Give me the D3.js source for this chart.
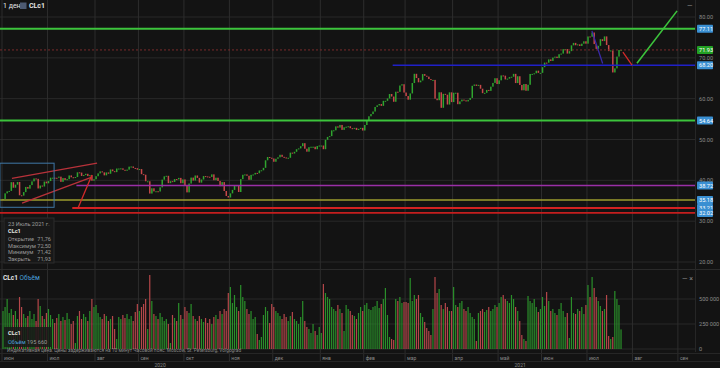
<!DOCTYPE html>
<html><head><meta charset="utf-8">
<script src="https://cdn.jsdelivr.net/npm/d3@7"></script>
<style>
html,body{margin:0;padding:0;background:#131313;overflow:hidden;}
svg{display:block;font-family:Roboto,"Noto Sans",sans-serif;}
</style></head><body>
<svg id="c" width="720" height="368"></svg>
<script>
// ---------- DATA ----------
const startDate = "2020-06-01";
const endDate = "2021-09-30";
const firstOpen = 35.2;
// daily closes (one per weekday from 2020-06-01 to 2021-07-23)
const closes = [
 // Jun 2020
 35.44,36.81,37.29,37.41,39.55,38.19,38.94,39.60,36.34,36.26,37.12,38.38,37.96,38.84,39.75,40.46,40.37,38.01,38.72,38.49,39.70,39.27,
 // Jul
 39.82,40.65,40.65,40.63,40.62,40.90,39.62,40.55,40.10,40.29,41.20,40.75,40.59,40.81,41.96,41.90,41.07,41.29,41.60,41.04,41.27,39.92,40.27,
 // Aug
 41.01,41.70,42.19,41.95,41.22,41.94,41.61,42.67,42.24,42.01,42.89,42.89,42.93,42.58,42.34,42.62,43.35,43.39,43.04,42.97,42.61,
 // Sep
 42.76,41.51,41.37,39.77,39.77,36.76,38.05,37.30,37.33,37.26,38.28,40.16,40.97,41.11,39.31,39.80,39.60,40.31,40.25,40.60,39.29,40.22,
 // Oct
 38.72,37.05,39.22,40.67,39.95,41.19,40.60,39.43,40.20,41.04,40.96,40.88,40.83,41.46,40.03,40.64,39.85,38.56,39.57,37.39,36.17,35.79,
 // Nov
 36.81,37.66,38.79,38.79,37.14,40.29,41.36,41.45,41.12,40.13,41.34,41.43,41.82,41.74,42.42,42.46,43.06,44.91,45.71,45.53,45.34,
 // Dec
 44.55,45.28,45.64,46.26,45.76,45.60,45.52,45.52,46.78,46.57,46.99,47.62,47.82,48.36,49.10,47.74,47.02,48.12,48.23,48.23,47.62,48.40,48.52,
 // Jan 2021
 48.52,47.62,49.93,50.63,50.83,52.24,52.25,53.21,52.91,53.57,52.36,52.98,53.13,53.24,52.77,52.61,52.85,52.34,52.61,52.85,52.20,
 // Feb
 53.55,54.76,55.69,56.23,56.85,57.97,58.36,58.68,58.24,59.47,59.47,60.05,61.14,60.52,59.24,61.70,61.67,63.22,63.53,61.50,
 // Mar
 60.64,59.75,61.28,63.83,66.09,65.05,64.01,64.44,66.02,65.61,65.39,64.80,64.60,64.60,60.00,59.62,61.56,57.76,61.18,60.97,58.56,61.55,59.16,
 // Apr
 61.45,61.45,58.65,59.33,59.77,59.60,59.32,59.70,60.18,63.15,63.46,63.13,63.38,62.44,61.35,61.43,62.14,61.91,62.94,63.86,65.01,63.58,
 // May
 64.49,65.69,65.63,64.71,64.90,65.28,65.37,66.08,63.82,65.49,63.36,62.05,63.58,61.94,63.40,66.05,66.07,66.21,66.85,66.32,66.32,
 // Jun
 67.72,68.83,68.81,69.62,69.23,70.05,70.29,69.96,70.88,71.04,72.12,72.15,71.04,71.64,73.06,73.66,73.08,73.30,72.91,73.47,74.05,73.47,
 // Jul (to 23rd)
 75.23,75.16,76.20,73.37,72.20,72.94,74.56,74.10,75.25,73.13,71.65,71.81,66.42,67.42,70.30,71.91,71.93
];
// daily volume, thousands of contracts
const volumes = [
 380,420,500,360,400,340,380,300,520,420,350,310,330,380,300,350,280,500,430,330,300,360,
 400,340,300,260,310,350,280,320,290,360,300,250,280,60,330,380,300,350,320,280,380,500,420,
 440,360,320,300,350,330,280,300,330,200,100,320,300,340,310,350,300,330,280,370,450,
 380,420,450,500,200,740,480,350,330,300,360,320,280,300,250,60,340,310,280,460,340,300,
 420,380,360,450,330,300,280,330,300,270,310,260,300,250,320,340,300,380,350,400,380,560,
 620,460,540,420,380,640,520,480,400,350,380,300,320,150,90,120,340,420,380,260,450,
 420,380,360,330,300,350,320,280,330,370,300,280,250,320,480,280,220,200,160,250,180,140,220,
 160,650,560,520,500,420,400,380,440,400,360,180,440,400,380,340,330,300,360,420,380,
 440,460,400,390,420,430,480,410,450,500,610,340,120,100,90,500,480,520,460,470,
 470,460,710,480,540,500,540,360,320,270,210,180,140,400,720,560,600,440,400,460,420,380,380,
 620,440,420,460,480,400,380,420,360,320,300,80,360,380,400,370,390,420,380,400,440,420,
 460,520,540,500,480,460,540,500,420,380,280,140,100,80,530,480,460,500,420,370,400,
 520,430,570,480,380,400,360,340,400,460,380,320,360,110,520,360,350,400,380,420,350,440,
 640,520,720,610,520,480,430,380,400,540,130,100,120,580,500,440,195.66
];
const priceTicks = [20,30,40,50,60,70,80];
const volumeTicks = [0,250000,500000];
const monthNames = ["янв","фев","мар","апр","май","июн","июл","авг","сен","окт","ноя","дек"];
// horizontal levels drawn by the user (price, start index; null = whole width)
const levelPrices = [77.11, 71.93, 68.20, 54.64, 38.72, 35.18, 33.21, 32.02];
const levelStarts = [null, null, 189, null, 36, null, 34, null];
const levelLabels = ["77.11","71.93","68.20","54.64","38.72","35.18","33.21","32.02"];
// trend lines drawn by the user: [index1, price1, index2, price2]
const trendLines = [
 [4.8, 40.5, 46, 44.2],
 [9.7, 34.4, 43.5, 40.8],
 [36.8, 33.2, 43.5, 41.3],
 [285.4, 76.6, 290.6, 68.6],
 [300.4, 71.4, 304.8, 68.2],
 [307.2, 68.7, 326.6, 81.5]
];
const boxRange = [-1, 44.2, 25.2, 33.4];
const lastDate = "23 Июль 2021 г.";
const ohlcNames = ["Открытие","Максимум","Минимум","Закрыть"];
const ohlcValues = ["71,76","72,50","71,42","71,93"];
const lastVolume = "195 660";

// ---------- LAYOUT ----------
const svg = d3.select("#c");
const W = 720, H = 368, plotRight = 695;
const days = d3.timeDay.range(new Date(startDate+"T00:00:00"), new Date(endDate+"T23:00:00"))
  .filter(d => d.getDay() !== 0 && d.getDay() !== 6);
const x = d3.scaleLinear().domain([0, days.length - 1]).range([2, 2 + (days.length - 1) * 2.067]);
const y = d3.scaleLinear().domain([20, 80]).range([262, 17]);
const yv = d3.scaleLinear().domain([0, 500000]).range([349, 299]);

svg.append("rect").attr("width", W).attr("height", H).attr("fill", "#131313");

// month boundaries
const monthStarts = [];
days.forEach((d, i) => { if (i === 0 || d.getMonth() !== days[i-1].getMonth()) monthStarts.push(i); });

const grid = svg.append("g");
// vertical grid
grid.selectAll("line.v").data(monthStarts).join("line")
  .attr("x1", i => x(i)).attr("x2", i => x(i)).attr("y1", 0).attr("y2", 361)
  .attr("stroke", "#333").attr("stroke-width", 0.8);
// price grid
grid.selectAll("line.p").data(priceTicks).join("line")
  .attr("x1", 0).attr("x2", plotRight).attr("y1", d => y(d)).attr("y2", d => y(d))
  .attr("stroke", "#2e2e2e").attr("stroke-width", 0.8);
// volume grid
grid.selectAll("line.vv").data(volumeTicks).join("line")
  .attr("x1", 0).attr("x2", plotRight).attr("y1", d => yv(d)).attr("y2", d => yv(d))
  .attr("stroke", "#2e2e2e").attr("stroke-width", 0.8);
// pane separator
svg.append("line").attr("x1", 0).attr("x2", W).attr("y1", 269.5).attr("y2", 269.5).attr("stroke", "#2a2a2a");
// right axis separator
svg.append("line").attr("x1", plotRight+0.5).attr("x2", plotRight+0.5).attr("y1", 0).attr("y2", 352).attr("stroke", "#262626");

const defs = svg.append("defs");
defs.append("clipPath").attr("id", "main").append("rect").attr("x", 0).attr("y", 0).attr("width", plotRight).attr("height", 268);

// candles
const candles = closes.map((c, i) => ({i, o: i ? closes[i-1] : firstOpen, c}));
const GREEN = "#2fa52f", RED = "#c8484a";
const cg = svg.append("g");
cg.selectAll("rect").data(candles).join("rect")
  .attr("x", d => x(d.i) + 0.3).attr("width", 1.5)
  .attr("y", d => y(Math.max(d.o, d.c)))
  .attr("height", d => Math.max(1, Math.abs(y(d.o) - y(d.c))))
  .attr("fill", d => d.c >= d.o ? GREEN : RED);

// volume bars
const vg = svg.append("g");
vg.selectAll("rect").data(volumes).join("rect")
  .attr("x", (v, i) => x(i) + 0.4).attr("width", 1.2)
  .attr("y", v => yv(v * 1000)).attr("height", v => yv(0) - yv(v * 1000))
  .attr("fill", (v, i) => candles[i].c >= candles[i].o ? "#2a8f2a" : "#b5474a");

// drawings
const dg = svg.append("g").attr("clip-path", "url(#main)");
const levelStyle = [
 {c:"#3cc43c", w:2}, {c:"#7a2b2b", w:1, dash:"2,2"}, {c:"#2020c8", w:1.5}, {c:"#3cc43c", w:2},
 {c:"#9a2fa6", w:1.5}, {c:"#9c9c2e", w:1.3}, {c:"#d42222", w:2}, {c:"#c41e1e", w:1.6}
];
levelPrices.forEach((p, k) => {
  const s = levelStyle[k];
  dg.append("line")
    .attr("x1", levelStarts[k] == null ? 0 : x(levelStarts[k])).attr("x2", plotRight)
    .attr("y1", y(p)).attr("y2", y(p))
    .attr("stroke", s.c).attr("stroke-width", s.w).attr("stroke-dasharray", s.dash || null);
});
const trendStyle = ["#b8323a","#b8323a","#d42a2a","#3a2aa8","#d42a2a","#3cc43c"];
trendLines.forEach((t, k) => {
  dg.append("line").attr("x1", x(t[0])).attr("y1", y(t[1])).attr("x2", x(t[2])).attr("y2", y(t[3]))
    .attr("stroke", trendStyle[k]).attr("stroke-width", k === 5 ? 1.6 : 1.3);
});
dg.append("rect").attr("x", x(boxRange[0])).attr("y", y(boxRange[1]))
  .attr("width", x(boxRange[2]) - x(boxRange[0])).attr("height", y(boxRange[3]) - y(boxRange[1]))
  .attr("fill", "none").attr("stroke", "#3f78a8").attr("stroke-width", 1);

// right price axis labels
const ax = svg.append("g").attr("font-size", 5.6);
priceTicks.forEach(p => {
  ax.append("text").attr("x", 699).attr("y", y(p) + 2).attr("fill", "#8a8a8a").text(p.toFixed(2));
});
levelPrices.forEach((p, k) => {
  const isCur = k === 1;
  ax.append("rect").attr("x", 697).attr("y", y(p) - 4).attr("width", 16).attr("height", 8)
    .attr("fill", isCur ? "#23a023" : "#3a8fd2").attr("rx", 0.8);
  ax.append("text").attr("x", 699).attr("y", y(p) + 2).attr("fill", "#fff").text(levelLabels[k]);
});
// volume axis labels
volumeTicks.forEach(v => {
  ax.append("text").attr("x", 699).attr("y", yv(v) + 2).attr("fill", "#8a8a8a")
    .text(d3.format(",")(v).replace(/,/g, " "));
});

// bottom time axis
const bx = svg.append("g").attr("font-size", 5).attr("fill", "#8a8a8a");
svg.append("line").attr("x1", 0).attr("x2", W).attr("y1", 353.5).attr("y2", 353.5).attr("stroke", "#262626");
svg.append("line").attr("x1", 0).attr("x2", W).attr("y1", 361.5).attr("y2", 361.5).attr("stroke", "#262626");
monthStarts.forEach(i => {
  bx.append("text").attr("x", x(i) + 2).attr("y", 359.5).text(monthNames[days[i].getMonth()]);
});
const years = d3.group(monthStarts, i => days[i].getFullYear());
years.forEach((arr, yr) => {
  const a = x(arr[0]), b = yr === 2020 ? x(arr.find((i, k) => days[i].getMonth() === 11) + 22) : W;
  bx.append("text").attr("x", (a + b) / 2).attr("y", 367).attr("text-anchor", "middle").text(yr);
});

// top-left header
const hd = svg.append("g").attr("font-size", 7).attr("fill", "#e6e6e6");
hd.append("text").attr("x", 3).attr("y", 8).text("1 день");
hd.append("rect").attr("x", 20).attr("y", 2.5).attr("width", 6.5).attr("height", 6.5).attr("fill", "#4d5a72");
hd.append("text").attr("x", 29).attr("y", 8).attr("font-weight", "bold").text("CLc1");
svg.append("text").attr("x", 687).attr("y", 8).attr("fill", "#888").attr("font-size", 7).text("—");

// OHLC tooltip
const tt = svg.append("g").attr("font-size", 5.6);
tt.append("rect").attr("x", 4).attr("y", 218).attr("width", 50).attr("height", 45)
  .attr("fill", "#181818").attr("stroke", "#2c2c2c");
tt.append("text").attr("x", 8).attr("y", 226).attr("fill", "#9a9a9a").text(lastDate);
tt.append("text").attr("x", 8).attr("y", 233).attr("fill", "#e6e6e6").attr("font-weight", "bold").text("CLc1");
ohlcNames.forEach((n, k) => {
  tt.append("text").attr("x", 8).attr("y", 241 + k * 6.6).attr("fill", "#9a9a9a").text(n);
  tt.append("text").attr("x", 51).attr("y", 241 + k * 6.6).attr("fill", "#9a9a9a").attr("text-anchor", "end").text(ohlcValues[k]);
});

// volume pane header
const vh = svg.append("g").attr("font-size", 6.5);
const t1 = vh.append("text").attr("x", 3).attr("y", 280);
t1.append("tspan").attr("fill", "#e6e6e6").attr("font-weight", "bold").text("CLc1 ");
t1.append("tspan").attr("fill", "#4aa0dc").text("Объём");
svg.append("text").attr("x", 682).attr("y", 281).attr("fill", "#888").attr("font-size", 7).text("— ×");

// volume tooltip
const vt = svg.append("g").attr("font-size", 5.6);
vt.append("rect").attr("x", 4).attr("y", 327).attr("width", 47).attr("height", 20).attr("fill", "#181818").attr("opacity", 0.85);
vt.append("text").attr("x", 8).attr("y", 335).attr("fill", "#e6e6e6").attr("font-weight", "bold").text("CLc1");
const t2 = vt.append("text").attr("x", 8).attr("y", 344);
t2.append("tspan").attr("fill", "#4aa0dc").text("Объём ");
t2.append("tspan").attr("fill", "#9a9a9a").text(lastVolume);

// footer
svg.append("text").attr("x", 7).attr("y", 352).attr("font-size", 4.8).attr("fill", "#8a8a8a")
  .text("Индикативная цена. Цены задерживаются на 10 минут     Часовой пояс: Moscow, St. Petersburg, Volgograd");
</script>
</body></html>
